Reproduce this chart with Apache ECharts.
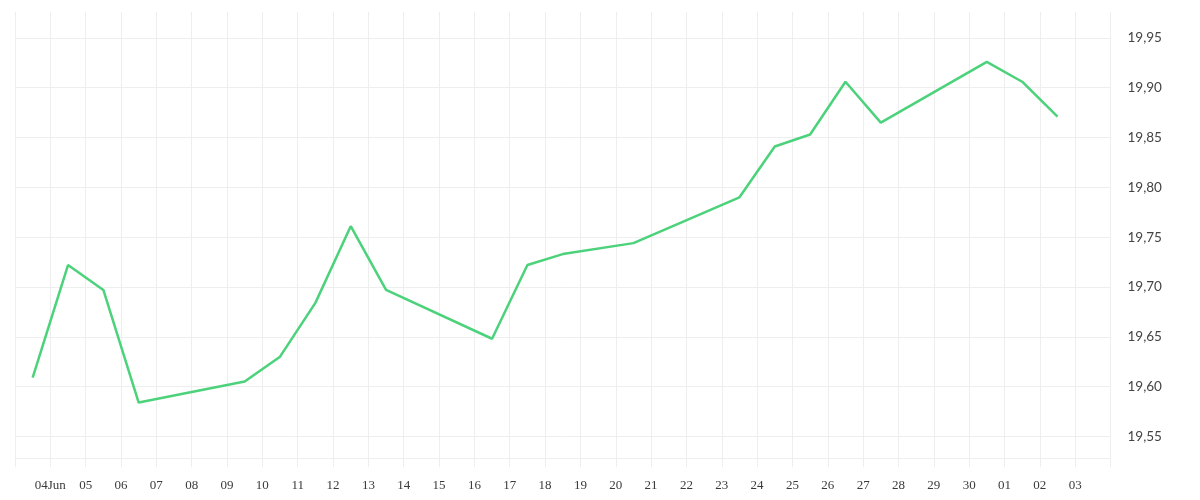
<!DOCTYPE html>
<html>
<head>
<meta charset="utf-8">
<script src="https://cdn.jsdelivr.net/npm/echarts@6/dist/echarts.min.js"></script>
<style>html,body{margin:0;padding:0;background:#fff}#c{width:1200px;height:500px}</style>
</head>
<body>
<div id="c"></div>
<script>
const dates = ['2025-06-03','2025-06-04','2025-06-05','2025-06-06','2025-06-09','2025-06-10','2025-06-11','2025-06-12','2025-06-13','2025-06-16','2025-06-17','2025-06-18','2025-06-20','2025-06-23','2025-06-24','2025-06-25','2025-06-26','2025-06-27','2025-06-30','2025-07-01','2025-07-02'];
const values = [19.609,19.722,19.697,19.584,19.605,19.630,19.684,19.761,19.697,19.648,19.722,19.733,19.744,19.790,19.841,19.853,19.906,19.865,19.926,19.906,19.871];
const xTickLabels = ['','04Jun','05','06','07','08','09','10','11','12','13','14','15','16','17','18','19','20','21','22','23','24','25','26','27','28','29','30','01','02','03',''];

const DAY = 86400000;
const xMin = Date.UTC(2025,5,3);
const xMax = Date.UTC(2025,6,4);
const seriesData = dates.map((d,i)=>{
  const p = d.split('-').map(Number);
  return [Date.UTC(p[0],p[1]-1,p[2],12), values[i]];
});
const gridColor = '#eeeeee';
const chart = echarts.init(document.getElementById('c'));
chart.setOption({
  animation:false,
  grid:{left:15,right:89.5,top:12,bottom:41.7,containLabel:false},
  xAxis:{
    type:'value', min:xMin, max:xMax, interval:DAY,
    axisLine:{show:true,lineStyle:{color:gridColor}},
    axisTick:{show:true,length:9,lineStyle:{color:gridColor}},
    splitLine:{show:true,lineStyle:{color:gridColor}},
    axisLabel:{
      margin:21,
      color:'#3a3a3a',
      fontFamily:'Liberation Serif',
      fontSize:13,
      formatter:(v)=>{const i=Math.round((v-xMin)/DAY);return xTickLabels[i]||'';}
    }
  },
  yAxis:{
    type:'value', position:'right', min:19.528, max:19.976, splitNumber:9,
    axisLine:{show:true,lineStyle:{color:gridColor}},
    axisTick:{show:false},
    splitLine:{show:true,showMaxLine:false,lineStyle:{color:gridColor}},
    axisLabel:{
      margin:17,
      color:'#444',
      fontFamily:'Lato',
      fontSize:13.5,
      showMinLabel:false, showMaxLabel:false,
      formatter:(v)=>v.toFixed(2).replace('.',',')
    }
  },
  series:[{
    type:'line', data:seriesData, showSymbol:false, symbol:'none',
    lineStyle:{color:'#4cd27b',width:2.5},
    itemStyle:{color:'#4cd27b'}
  }]
});
</script>
</body>
</html>
